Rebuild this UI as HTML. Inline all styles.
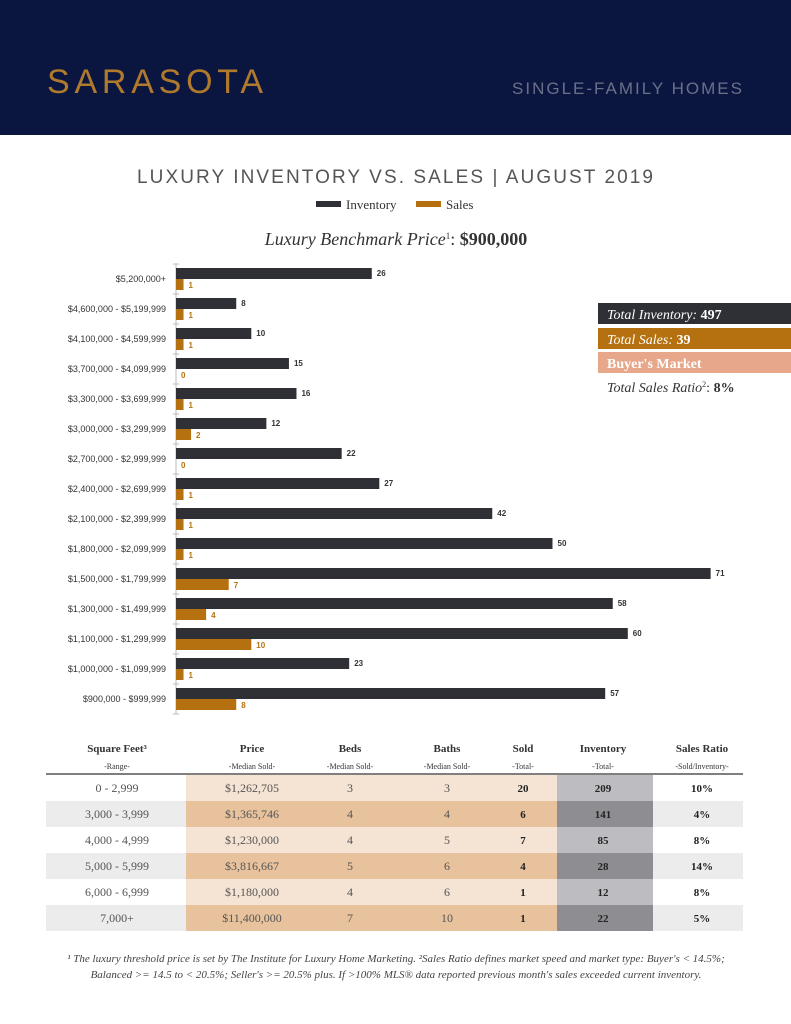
<!DOCTYPE html>
<html><head><meta charset="utf-8"><style>
body{margin:0;width:791px;height:1024px;background:#fff;overflow:hidden}
svg{display:block}
</style></head><body>
<svg width="791" height="1024" viewBox="0 0 791 1024" xmlns="http://www.w3.org/2000/svg" font-family="Liberation Sans, sans-serif">
<rect x="0" y="0" width="791" height="135" fill="#0b1640"/>
<text x="47" y="93" font-size="34" fill="#b07a2c" letter-spacing="5" textLength="221" lengthAdjust="spacing">SARASOTA</text>
<text x="744" y="94" font-size="17" fill="#6b7089" letter-spacing="2" text-anchor="end">SINGLE-FAMILY HOMES</text>
<text x="137" y="183" font-size="19" fill="#555" letter-spacing="2" textLength="518" lengthAdjust="spacing">LUXURY INVENTORY VS. SALES | AUGUST 2019</text>
<rect x="316" y="201" width="25" height="6" fill="#2f3036"/>
<text x="346" y="209" font-size="13" fill="#333" font-family="Liberation Serif, serif">Inventory</text>
<rect x="416" y="201" width="25" height="6" fill="#b5710f"/>
<text x="446" y="209" font-size="13" fill="#333" font-family="Liberation Serif, serif">Sales</text>
<text x="396" y="245" font-size="18" fill="#333" text-anchor="middle" font-family="Liberation Serif, serif"><tspan font-style="italic">Luxury Benchmark Price</tspan><tspan font-size="9" dy="-6">1</tspan><tspan dy="6">: </tspan><tspan font-weight="bold">$900,000</tspan></text>
<g id="chart" font-size="9"></g>
<rect x="598" y="303" width="193" height="21" fill="#2f3036"/>
<text x="607" y="319" font-size="14" fill="#fff" font-family="Liberation Serif, serif"><tspan font-style="italic">Total Inventory: </tspan><tspan font-weight="bold">497</tspan></text>
<rect x="598" y="328" width="193" height="21" fill="#b5710f"/>
<text x="607" y="344" font-size="14" fill="#fff" font-family="Liberation Serif, serif"><tspan font-style="italic">Total Sales: </tspan><tspan font-weight="bold">39</tspan></text>
<rect x="598" y="352" width="193" height="21" fill="#e6a78a"/>
<text x="607" y="368" font-size="14" fill="#fff" font-weight="bold" font-family="Liberation Serif, serif">Buyer's Market</text>
<text x="607" y="392" font-size="14" fill="#333" font-family="Liberation Serif, serif"><tspan font-style="italic">Total Sales Ratio</tspan><tspan font-size="8" dy="-5">2</tspan><tspan dy="5">: </tspan><tspan font-weight="bold">8%</tspan></text>
<g id="table" font-family="Liberation Serif, serif"></g>
<text x="396" y="962" font-size="11" fill="#444" font-style="italic" text-anchor="middle" font-family="Liberation Serif, serif">¹ The luxury threshold price is set by The Institute for Luxury Home Marketing. ²Sales Ratio defines market speed and market type: Buyer's &lt; 14.5%;</text>
<text x="396" y="978" font-size="11" fill="#444" font-style="italic" text-anchor="middle" font-family="Liberation Serif, serif">Balanced &gt;= 14.5 to &lt; 20.5%; Seller's &gt;= 20.5% plus. If &gt;100% MLS® data reported previous month's sales exceeded current inventory.</text>
</svg>
<script>
var ns="http://www.w3.org/2000/svg";
function el(p,t,a,txt){var e=document.createElementNS(ns,t);for(var k in a)e.setAttribute(k,a[k]);if(txt!==undefined)e.textContent=txt;p.appendChild(e);return e;}
var c=document.getElementById("chart");
var rows=[["$5,200,000+",26,1],["$4,600,000 - $5,199,999",8,1],["$4,100,000 - $4,599,999",10,1],["$3,700,000 - $4,099,999",15,0],["$3,300,000 - $3,699,999",16,1],["$3,000,000 - $3,299,999",12,2],["$2,700,000 - $2,999,999",22,0],["$2,400,000 - $2,699,999",27,1],["$2,100,000 - $2,399,999",42,1],["$1,800,000 - $2,099,999",50,1],["$1,500,000 - $1,799,999",71,7],["$1,300,000 - $1,499,999",58,4],["$1,100,000 - $1,299,999",60,10],["$1,000,000 - $1,099,999",23,1],["$900,000 - $999,999",57,8]];
var s=7.53,x0=176;
el(c,"line",{x1:x0,y1:264,x2:x0,y2:714,stroke:"#bbb","stroke-width":1});
for(var i=0;i<=15;i++)el(c,"line",{x1:x0-3,y1:264+30*i,x2:x0+3,y2:264+30*i,stroke:"#bbb"});
rows.forEach(function(r,i){var y=268+30*i;
el(c,"text",{x:166,y:y+14,"text-anchor":"end",fill:"#333"},r[0]);
el(c,"rect",{x:x0,y:y,width:r[1]*s,height:11,fill:"#2f3036"});
el(c,"text",{x:x0+r[1]*s+5,y:y+8,fill:"#333","font-weight":"bold","font-size":8},r[1]);
el(c,"rect",{x:x0,y:y+11,width:r[2]*s,height:11,fill:"#b5710f"});
el(c,"text",{x:x0+r[2]*s+5,y:y+20,fill:"#b5710f","font-weight":"bold","font-size":8},r[2]);
});
var t=document.getElementById("table");
var cols=[[46,186,117],[186,320,252],[320,420,350],[420,500,447],[500,557,523],[557,653,603],[653,743,702]];
var hd=[["Square Feet³","-Range-"],["Price","-Median Sold-"],["Beds","-Median Sold-"],["Baths","-Median Sold-"],["Sold","-Total-"],["Inventory","-Total-"],["Sales Ratio","-Sold/Inventory-"]];
var data=[["0 - 2,999","$1,262,705","3","3","20","209","10%"],["3,000 - 3,999","$1,365,746","4","4","6","141","4%"],["4,000 - 4,999","$1,230,000","4","5","7","85","8%"],["5,000 - 5,999","$3,816,667","5","6","4","28","14%"],["6,000 - 6,999","$1,180,000","4","6","1","12","8%"],["7,000+","$11,400,000","7","10","1","22","5%"]];
hd.forEach(function(h,j){el(t,"text",{x:cols[j][2],y:752,"text-anchor":"middle","font-size":11,"font-weight":"bold",fill:"#333"},h[0]);el(t,"text",{x:cols[j][2],y:769,"text-anchor":"middle","font-size":8,fill:"#333"},h[1]);});
data.forEach(function(r,i){var y=775+26*i,odd=i%2==1;
cols.forEach(function(cc,j){var f;
if(j>=1&&j<=4)f=odd?"#e8c29c":"#f5e3d3";else if(j==5)f=odd?"#8e8d91":"#bdbcc0";else f=odd?"#ececec":"#fff";
el(t,"rect",{x:cc[0],y:y,width:cc[1]-cc[0],height:26,fill:f});
var b=j>=4;el(t,"text",{x:cc[2],y:y+17,"text-anchor":"middle","font-size":b?11:12,"font-weight":b?"bold":"normal",fill:b?"#222":"#555"},r[j]);});
});
el(t,"line",{x1:46,y1:774,x2:743,y2:774,stroke:"#555","stroke-width":1.5});
</script>
</body></html>
